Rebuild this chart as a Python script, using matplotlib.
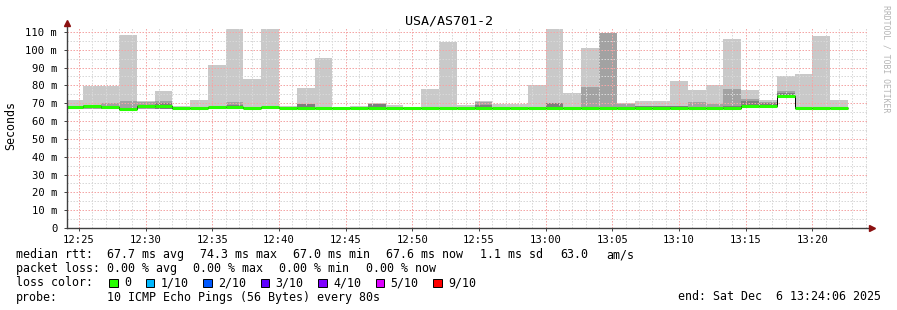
import numpy as np
import matplotlib
matplotlib.use("Agg")
import matplotlib.pyplot as plt
from matplotlib.patches import Rectangle
from matplotlib.ticker import FixedLocator, MultipleLocator

# ---------------- data ----------------
title = "USA/AS701-2"
step_start_min = 24.0        # 12:24:00, minutes after 12:00
step_len_min = 80 / 60.0     # 80 s steps
view_start_min = 24.1        # 12:24:06
view_end_min = 84.1          # 13:24:06

median = [67.9, 68.3, 67.8, 67.0, 68.5, 68.6, 67.5, 67.5, 67.8, 67.8, 67.5,
          67.8, 67.5, 67.5, 67.5, 67.1, 67.1, 67.2, 67.2, 67.1, 67.5, 67.5,
          67.2, 67.2, 67.4, 67.4, 67.5, 67.5, 67.5, 67.4, 67.5, 67.5, 67.6,
          67.6, 67.2, 67.2, 67.2, 67.4, 68.2, 68.6, 74.3, 67.5, 67.5, 67.6]
smoke_lo = [66.9, 66.9, 66.9, 66.6, 66.9, 66.9, 66.9, 66.9, 66.9, 66.9, 66.9,
            66.9, 66.9, 66.9, 66.9, 66.7, 66.7, 66.7, 66.7, 66.7, 66.9, 66.9,
            66.7, 66.7, 66.9, 66.9, 66.9, 66.9, 66.9, 66.9, 66.9, 66.9, 66.9,
            66.9, 66.7, 66.7, 66.7, 66.9, 67.5, 67.6, 73.6, 66.9, 66.9, 66.9]
smoke_hi = [71.6, 79.5, 79.5, 108.5, 71.4, 76.6, 68.6, 72.0, 91.2, 111.8, 83.5,
            111.8, 68.6, 78.8, 95.2, 68.0, 68.4, 69.9, 68.8, 68.1, 77.7, 104.3,
            68.8, 71.0, 69.8, 69.3, 80.1, 111.8, 75.6, 101.2, 109.6, 70.3, 71.0,
            71.4, 82.7, 77.6, 80.0, 106.2, 77.6, 71.8, 85.1, 86.6, 107.9, 72.0]
nan = float("nan")
smoke_mid = [nan, 69.2, 70.1, 71.3, 70.7, 71.3, nan, nan, nan, 70.5, nan,
             nan, nan, nan, nan, nan, nan, nan, nan, nan, nan, nan,
             nan, 70.7, nan, nan, nan, nan, nan, 79.3, 109.6, 69.5, nan,
             nan, nan, 70.5, 69.5, 78.2, 72.6, 70.5, 76.7, nan, nan, nan]
smoke_in = [nan, nan, 68.6, nan, nan, 70.3, nan, nan, nan, 69.0, nan,
            nan, nan, 69.6, nan, nan, nan, 69.4, nan, nan, nan, nan,
            nan, 68.8, nan, nan, nan, 70.2, nan, nan, nan, nan, 68.5,
            68.5, 68.3, nan, nan, 68.5, 71.0, 70.0, 75.5, nan, nan, nan]

x_tick_min = [25, 30, 35, 40, 45, 50, 55, 60, 65, 70, 75, 80]
x_tick_labels = ["12:25", "12:30", "12:35", "12:40", "12:45", "12:50",
                 "12:55", "13:00", "13:05", "13:10", "13:15", "13:20"]
y_ticks = [0, 10, 20, 30, 40, 50, 60, 70, 80, 90, 100, 110]
y_tick_labels = ["0"] + [f"{v} m" for v in y_ticks[1:]]

loss_labels = ["0", "1/10", "2/10", "3/10", "4/10", "5/10", "9/10"]
loss_colors = ["#26ff00", "#00b8ff", "#0059ff", "#5e00ff", "#7e00ff", "#dd00ff", "#ff0000"]

# ---------------- figure ----------------
W, H = 897, 310
MONO = "DejaVu Sans Mono"
plt.rcParams["font.family"] = [MONO, "DejaVu Sans"]

fig = plt.figure(figsize=(W / 100, H / 100), dpi=100, facecolor="white")
ax = fig.add_axes([67 / W, (H - 228) / H, 800 / W, 200 / H])
ax.set_facecolor("white")
ax.set_xlim(view_start_min, view_end_min)
ax.set_ylim(0, 112.2)

n = len(median)
starts = step_start_min + step_len_min * np.arange(n)
edges = np.append(starts, starts[-1] + step_len_min)

lo = np.array(smoke_lo)
for vals, col in [(smoke_hi, "#c9c9c9"), (smoke_mid, "#a2a2a2"), (smoke_in, "#7e7e7e")]:
    v = np.array(vals)
    ax.bar(starts, v - lo, bottom=lo, width=step_len_min, align="edge",
           color=col, linewidth=0, zorder=1)

ax.stairs(median, edges, baseline=None, color="black", lw=0.7, zorder=2.6)
ax.hlines(median, edges[:-1], edges[1:], color=loss_colors[0], lw=2.2, zorder=2.7)

# grid
ax.xaxis.set_major_locator(FixedLocator(x_tick_min))
ax.xaxis.set_minor_locator(MultipleLocator(1))
ax.yaxis.set_major_locator(FixedLocator(y_ticks))
ax.yaxis.set_minor_locator(MultipleLocator(5))
ax.set_axisbelow(False)
ax.grid(which="minor", color="#d8d8d8", linestyle=(0, (1.5, 1.5)), lw=0.72, zorder=2.5)
ax.grid(which="major", color="#f4a6a6", linestyle=(0, (1.5, 1.5)), lw=0.72, zorder=2.5)

ax.set_xticklabels(x_tick_labels)
ax.set_yticklabels(y_tick_labels)
ax.tick_params(axis="both", which="major", length=2, width=0.7, color="#404040",
               labelsize=7.6, labelcolor="black", direction="out")
ax.tick_params(axis="x", which="major", pad=3)
ax.tick_params(axis="y", which="major", pad=5)
ax.tick_params(axis="both", which="minor", length=0)
for s in ax.spines.values():
    s.set_visible(False)

# axis lines with arrows
ax.plot([0, 0], [0, 1.02], transform=ax.transAxes, color="#404040", lw=1.0,
        clip_on=False, zorder=4)
ax.plot([0, 1.005], [0, 0], transform=ax.transAxes, color="#404040", lw=1.0,
        clip_on=False, zorder=4)
ax.plot([0], [1.025], marker="^", markersize=3.8, color="#8b1010",
        transform=ax.transAxes, clip_on=False, zorder=5)
ax.plot([1.006], [0], marker=">", markersize=3.8, color="#8b1010",
        transform=ax.transAxes, clip_on=False, zorder=5)


def ft(x, y, s, **kw):
    kw.setdefault("fontsize", 8.4)
    kw.setdefault("va", "baseline")
    kw.setdefault("ha", "left")
    fig.text(x / W, 1 - y / H, s, family=MONO, **kw)


ft(448.5, 24, title, ha="center", fontsize=9.6)
ft(11, 126, "Seconds", ha="center", va="center", rotation=90)
ft(886, 5, "RRDTOOL / TOBI OETIKER", ha="center", va="top", rotation=-90,
   fontsize=5.9, color="#b4b4b4")

# legend rows
r1, r2, r3, r4 = 258.3, 272.3, 286.5, 300.5
ft(16, r1, "median rtt:")
for x, s in [(107.3, "67.7 ms avg"), (200, "74.3 ms max"), (293.3, "67.0 ms min"),
             (386, "67.6 ms now"), (480, "1.1 ms sd"), (560, "63.0"), (606.7, "am/s")]:
    ft(x, r1, s)
ft(16, r2, "packet loss:")
for x, s in [(107.3, "0.00 % avg"), (193.3, "0.00 % max"), (279.3, "0.00 % min"),
             (365.7, "0.00 % now")]:
    ft(x, r2, s)
ft(16, r3, "loss color:")
sq_x = [109.3, 145.7, 203, 260.7, 318, 375.7, 433.3]
lab_x = [124, 160.7, 218, 275.3, 333, 390.7, 448.5]
for sx, lx, lab, col in zip(sq_x, lab_x, loss_labels, loss_colors):
    fig.patches.append(Rectangle((sx / W, 1 - 287 / H), 8.5 / W, 8 / H,
                                 transform=fig.transFigure, facecolor=col,
                                 edgecolor="black", lw=0.7))
    ft(lx, r3, lab)
ft(16, r4, "probe:")
ft(107.3, r4, "10 ICMP Echo Pings (56 Bytes) every 80s")
ft(880.5, r4, "end: Sat Dec  6 13:24:06 2025", ha="right")

fig.savefig("out.png", dpi=100, facecolor="white")
